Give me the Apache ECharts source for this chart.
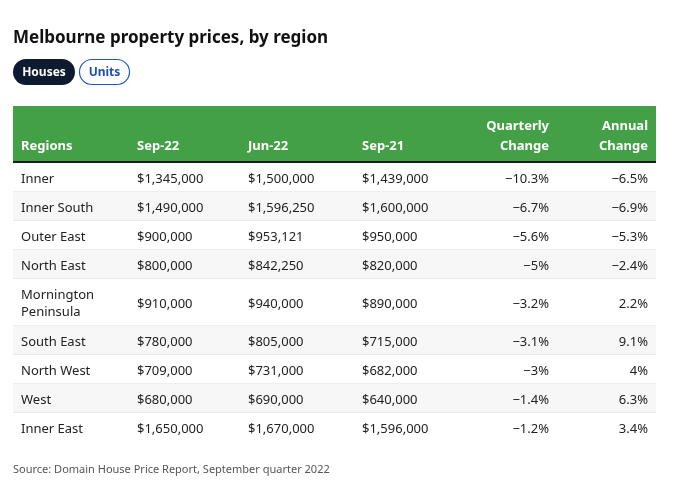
<!DOCTYPE html>
<html><head><meta charset="utf-8">
<script src="https://cdn.jsdelivr.net/npm/echarts@6/dist/echarts.min.js"></script>
<style>html,body{margin:0;padding:0;background:#fff}#c{width:680px;height:481px}</style>
</head><body><div id="c"></div>
<script>
const title = 'Melbourne property prices, by region';
const toggles = ['Houses', 'Units'];
const columns = ['Regions', 'Sep-22', 'Jun-22', 'Sep-21', 'Quarterly\nChange', 'Annual\nChange'];
const regions = ['Inner', 'Inner South', 'Outer East', 'North East', 'Mornington\nPeninsula', 'South East', 'North West', 'West', 'Inner East'];
const sep22 = [1345000, 1490000, 900000, 800000, 910000, 780000, 709000, 680000, 1650000];
const jun22 = [1500000, 1596250, 953121, 842250, 940000, 805000, 731000, 690000, 1670000];
const sep21 = [1439000, 1600000, 950000, 820000, 890000, 715000, 682000, 640000, 1596000];
const quarterly = [-10.3, -6.7, -5.6, -5, -3.2, -3.1, -3, -1.4, -1.2];
const annual = [-6.5, -6.9, -5.3, -2.4, 2.2, 9.1, 4, 6.3, 3.4];
const source = 'Source: Domain House Price Report, September quarter 2022';

const FONT = "'Noto Sans', 'Open Sans', sans-serif";
const money = v => '$' + v.toLocaleString('en-US');
const pct = v => (v < 0 ? '\u2212' : '') + Math.abs(v) + '%';

// layout (axis units ~ pixels)
const HEADER_H = 57, ROW_H = 29, EXTRA_LINE = 18, TABLE_W = 643;
const colX = [8, 124, 235, 349, 536, 635];
const colAlign = ['left', 'left', 'left', 'left', 'right', 'right'];
const DY = 1.5;

let y = HEADER_H;
const rowData = regions.map((r, i) => {
  const lines = r.split('\n').length;
  const h = ROW_H + (lines - 1) * EXTRA_LINE;
  const d = [i, y, y + h];
  y += h;
  return d;
});
const TOTAL = y;

function cellTexts(i) {
  return [regions[i], money(sep22[i]), money(jun22[i]), money(sep21[i]), pct(quarterly[i]), pct(annual[i])];
}

function renderRow(params, api) {
  const i = api.value(0);
  const p0 = api.coord([0, api.value(1)]);
  const p1 = api.coord([TABLE_W, api.value(2)]);
  const cy = (p0[1] + p1[1]) / 2 + DY;
  const children = [{
    type: 'rect',
    shape: { x: p0[0], y: p0[1], width: p1[0] - p0[0], height: p1[1] - p0[1] },
    style: { fill: i % 2 ? '#f7f7f7' : '#ffffff' }
  }];
  if (i < regions.length - 1) {
    children.push({
      type: 'rect',
      shape: { x: p0[0], y: p1[1] - 0.5, width: p1[0] - p0[0], height: 1.5 },
      style: { fill: '#dedede' }
    });
  }
  cellTexts(i).forEach((t, c) => {
    const x = api.coord([colX[c], 0])[0];
    children.push({
      type: 'text',
      style: {
        text: t, x: x, y: cy,
        font: '13px ' + FONT, fill: '#222',
        align: colAlign[c], verticalAlign: 'middle',
        textAlign: colAlign[c], textVerticalAlign: 'middle',
        lineHeight: 16.5
      }
    });
  });
  return { type: 'group', children: children };
}

function renderHeader(params, api) {
  const p0 = api.coord([0, 0]);
  const p1 = api.coord([TABLE_W, 55]);
  const p2 = api.coord([TABLE_W, HEADER_H]);
  const children = [
    { type: 'rect', shape: { x: p0[0], y: p0[1], width: p1[0] - p0[0], height: p1[1] - p0[1] }, style: { fill: '#43a047' } },
    { type: 'rect', shape: { x: p0[0], y: p1[1], width: p1[0] - p0[0], height: p2[1] - p1[1] }, style: { fill: '#1c1c1c' } }
  ];
  const by = api.coord([0, 48.5])[1] + DY;
  columns.forEach((t, c) => {
    const x = api.coord([colX[c], 0])[0];
    children.push({
      type: 'text',
      style: {
        text: t, x: x, y: by,
        font: 'bold 13px ' + FONT, fill: '#ffffff',
        align: colAlign[c], verticalAlign: 'bottom',
        textAlign: colAlign[c], textVerticalAlign: 'bottom',
        lineHeight: 20
      }
    });
  });
  return { type: 'group', children: children };
}

const chart = echarts.init(document.getElementById('c'), null, { renderer: 'canvas' });
chart.setOption({
  backgroundColor: '#ffffff',
  animation: false,
  title: {
    text: title, left: 13, top: 30, padding: 0,
    textStyle: { fontFamily: FONT, fontSize: 17, fontWeight: 'bold', color: '#111' }
  },
  grid: { left: 13, right: 24, top: 106, bottom: 481 - 106 - TOTAL },
  xAxis: { type: 'value', min: 0, max: TABLE_W, show: false },
  yAxis: { type: 'value', min: 0, max: TOTAL, inverse: true, show: false },
  graphic: [
    { type: 'rect', shape: { x: 13, y: 59, width: 62, height: 26, r: 13 }, style: { fill: '#0e1a2f' } },
    { type: 'text', x: 44, y: 73, style: { text: toggles[0], font: 'bold 12px ' + FONT, fill: '#fff', align: 'center', verticalAlign: 'middle', textAlign: 'center', textVerticalAlign: 'middle' } },
    { type: 'rect', shape: { x: 79.5, y: 59.5, width: 50, height: 25, r: 12.5 }, style: { fill: '#fff', stroke: '#1d5cc6', lineWidth: 1.2 } },
    { type: 'text', x: 104.5, y: 73, style: { text: toggles[1], font: 'bold 12px ' + FONT, fill: '#1d4fb5', align: 'center', verticalAlign: 'middle', textAlign: 'center', textVerticalAlign: 'middle' } },
    { type: 'text', x: 13, y: 469.5, style: { text: source, font: '11px ' + FONT, fill: '#555', align: 'left', verticalAlign: 'middle', textAlign: 'left', textVerticalAlign: 'middle' } }
  ],
  series: [
    { type: 'custom', name: 'header', renderItem: renderHeader, data: [[0]], clip: false, silent: true },
    { type: 'custom', name: 'rows', renderItem: renderRow, data: rowData, clip: false, silent: true }
  ]
});
</script></body></html>
